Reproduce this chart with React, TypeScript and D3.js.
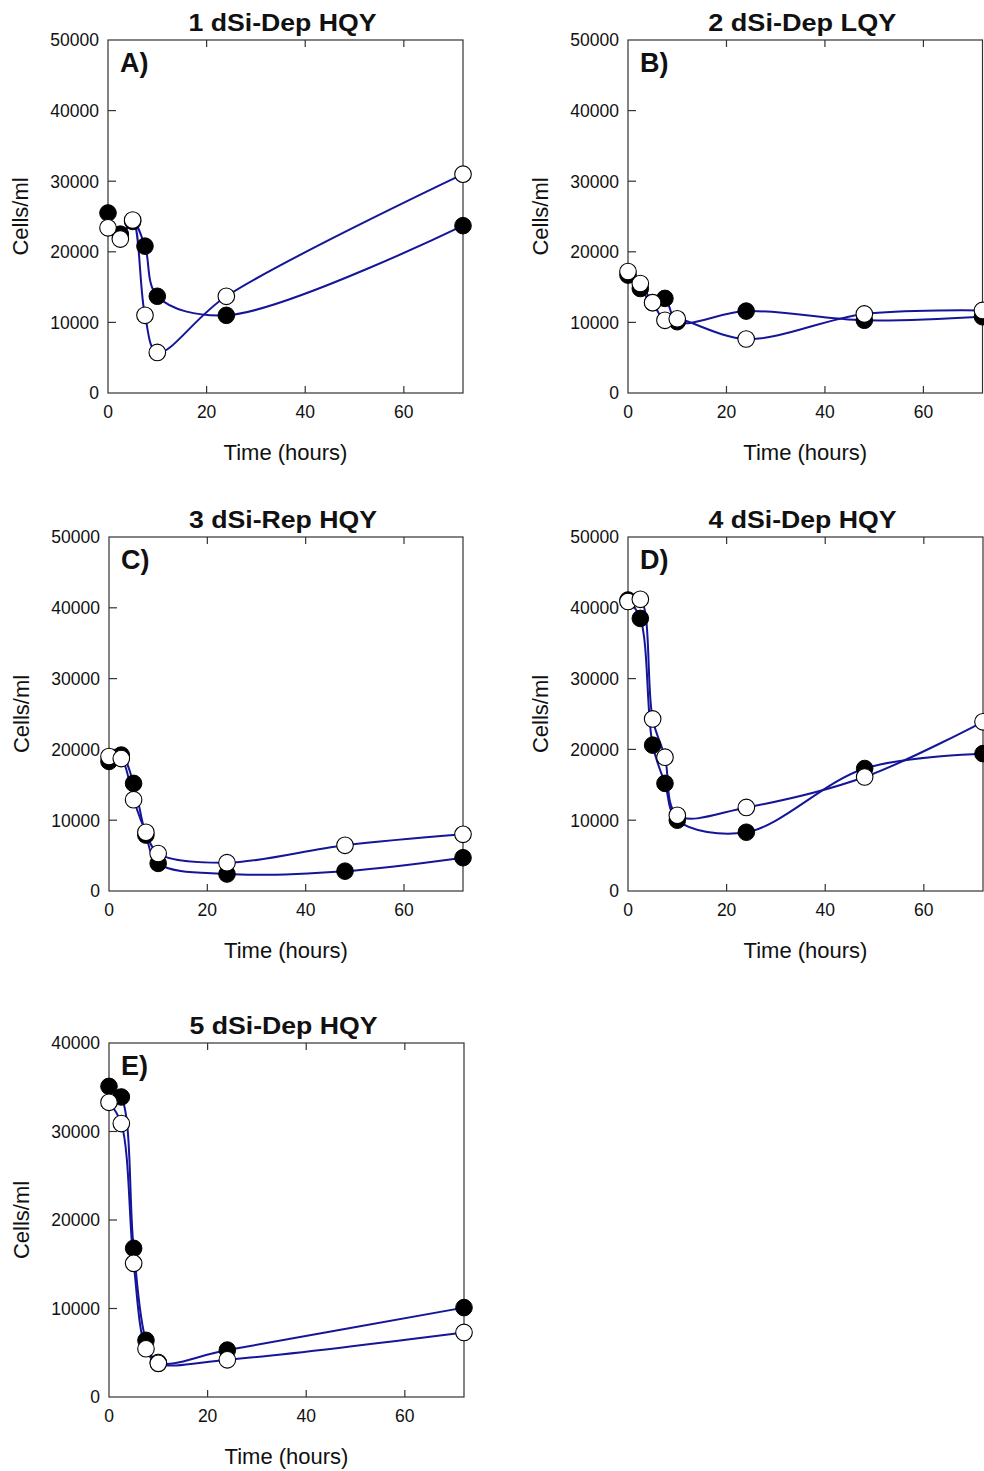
import React from "react";
import * as d3 from "d3";

// Sampling times (hours)
const TIMES_SHORT = [0, 2.5, 5, 7.5, 10, 24, 72];
const TIMES_FULL = [0, 2.5, 5, 7.5, 10, 24, 48, 72];

// Cell counts (cells/ml): filled = black circles, open = white circles
const panelA_filled = [25500, 22500, 24300, 20800, 13700, 11000, 23700];
const panelA_open = [23400, 21800, 24500, 11000, 5750, 13700, 31000];
const panelB_filled = [16700, 14800, 12800, 13400, 10100, 11600, 10300, 10800];
const panelB_open = [17200, 15500, 12800, 10300, 10500, 7650, 11200, 11700];
const panelC_filled = [18300, 19200, 15200, 7900, 3900, 2400, 2800, 4700];
const panelC_open = [19000, 18700, 12900, 8300, 5300, 4000, 6450, 8000];
const panelD_filled = [41100, 38500, 20600, 15200, 10000, 8300, 17300, 19400];
const panelD_open = [40900, 41200, 24300, 18900, 10700, 11800, 16100, 23900];
const panelE_filled = [35100, 33900, 16800, 6400, 3900, 5300, 10100];
const panelE_open = [33300, 30900, 15100, 5450, 3800, 4200, 7300];

const panelTitles = ["1 dSi-Dep HQY", "2 dSi-Dep LQY", "3 dSi-Rep HQY", "4 dSi-Dep HQY", "5 dSi-Dep HQY"];
const panelLetters = ["A)", "B)", "C)", "D)", "E)"];
const xTicks = [0, 20, 40, 60];
const yTicks50 = [0, 10000, 20000, 30000, 40000, 50000];
const yTicks40 = [0, 10000, 20000, 30000, 40000];

const FONT = "'Liberation Sans', Arial, sans-serif";
const LINE_COLOR = "#15159a";

type PanelProps = {
  left: number;
  right: number;
  top: number;
  bottom: number;
  yMax: number;
  yTicks: number[];
  times: number[];
  filled: number[];
  open: number[];
  title: string;
  letter: string;
};

function Panel(p: PanelProps) {
  const x = d3.scaleLinear().domain([0, 72]).range([p.left, p.right]);
  const y = d3.scaleLinear().domain([0, p.yMax]).range([p.bottom, p.top]);
  const line = d3
    .line<[number, number]>()
    .x((d) => x(d[0]))
    .y((d) => y(d[1]))
    .curve(d3.curveCatmullRom.alpha(0.5));
  const fPts = p.times.map((t, i) => [t, p.filled[i]] as [number, number]);
  const oPts = p.times.map((t, i) => [t, p.open[i]] as [number, number]);
  const cx = (p.left + p.right) / 2;
  const cy = (p.top + p.bottom) / 2;
  const frame = "#333";
  return (
    <g>
      <text x={cx - 3} y={p.top - 9} textAnchor="middle" fontFamily={FONT} fontWeight="bold" fontSize={24} textLength={188} lengthAdjust="spacingAndGlyphs" fill="#111">
        {p.title}
      </text>
      <rect x={p.left} y={p.top} width={p.right - p.left} height={p.bottom - p.top} fill="none" stroke={frame} strokeWidth={1.2} />
      {xTicks.filter((t) => t > 0).map((t) => (
        <g key={"xt" + t}>
          <line x1={x(t)} x2={x(t)} y1={p.bottom} y2={p.bottom - 7} stroke={frame} strokeWidth={1.2} />
          <line x1={x(t)} x2={x(t)} y1={p.top} y2={p.top + 7} stroke={frame} strokeWidth={1.2} />
        </g>
      ))}
      {xTicks.map((t) => (
        <text key={"xl" + t} x={x(t)} y={p.bottom + 25} textAnchor="middle" fontFamily={FONT} fontSize={17.5} fill="#111">
          {t}
        </text>
      ))}
      {p.yTicks.map((v) => (
        <g key={"yt" + v}>
          {v > 0 && v < p.yMax && (
            <line x1={p.left} x2={p.left + 8} y1={y(v)} y2={y(v)} stroke={frame} strokeWidth={1.2} />
          )}
          <text x={p.left - 9} y={y(v)} dy="0.36em" textAnchor="end" fontFamily={FONT} fontSize={17.5} fill="#111">
            {v}
          </text>
        </g>
      ))}
      <text
        transform={`translate(${p.left - 80},${cy}) rotate(-90)`}
        textAnchor="middle"
        fontFamily={FONT}
        fontSize={22}
        fill="#111"
      >
        Cells/ml
      </text>
      <text x={cx} y={p.bottom + 67} textAnchor="middle" fontFamily={FONT} fontSize={22} fill="#111">
        Time (hours)
      </text>
      <text x={p.left + 12} y={p.top + 32} fontFamily={FONT} fontWeight="bold" fontSize={27} fill="#111">
        {p.letter}
      </text>
      <path d={line(fPts) || ""} fill="none" stroke={LINE_COLOR} strokeWidth={2} />
      <path d={line(oPts) || ""} fill="none" stroke={LINE_COLOR} strokeWidth={2} />
      {fPts.map((d, i) => (
        <circle key={"f" + i} cx={x(d[0])} cy={y(d[1])} r={8.3} fill="#000" stroke="#000" strokeWidth={1} />
      ))}
      {oPts.map((d, i) => (
        <circle key={"o" + i} cx={x(d[0])} cy={y(d[1])} r={8.3} fill="#fff" stroke="#000" strokeWidth={1.1} />
      ))}
    </g>
  );
}

export default function App() {
  return (
    <svg
      width={984}
      height={1471}
      viewBox="0 0 984 1471"
      style={{ position: "absolute", left: 0, top: 0, background: "#fff", display: "block" }}
    >
      <rect x={0} y={0} width={984} height={1471} fill="#fff" />
      <Panel left={108} right={463} top={40} bottom={393} yMax={50000} yTicks={yTicks50} times={TIMES_SHORT} filled={panelA_filled} open={panelA_open} title={panelTitles[0]} letter={panelLetters[0]} />
      <Panel left={628} right={982.5} top={40} bottom={393} yMax={50000} yTicks={yTicks50} times={TIMES_FULL} filled={panelB_filled} open={panelB_open} title={panelTitles[1]} letter={panelLetters[1]} />
      <Panel left={109} right={463} top={537} bottom={891} yMax={50000} yTicks={yTicks50} times={TIMES_FULL} filled={panelC_filled} open={panelC_open} title={panelTitles[2]} letter={panelLetters[2]} />
      <Panel left={628} right={983} top={537} bottom={891} yMax={50000} yTicks={yTicks50} times={TIMES_FULL} filled={panelD_filled} open={panelD_open} title={panelTitles[3]} letter={panelLetters[3]} />
      <Panel left={109} right={464} top={1043} bottom={1397} yMax={40000} yTicks={yTicks40} times={TIMES_SHORT} filled={panelE_filled} open={panelE_open} title={panelTitles[4]} letter={panelLetters[4]} />
    </svg>
  );
}
